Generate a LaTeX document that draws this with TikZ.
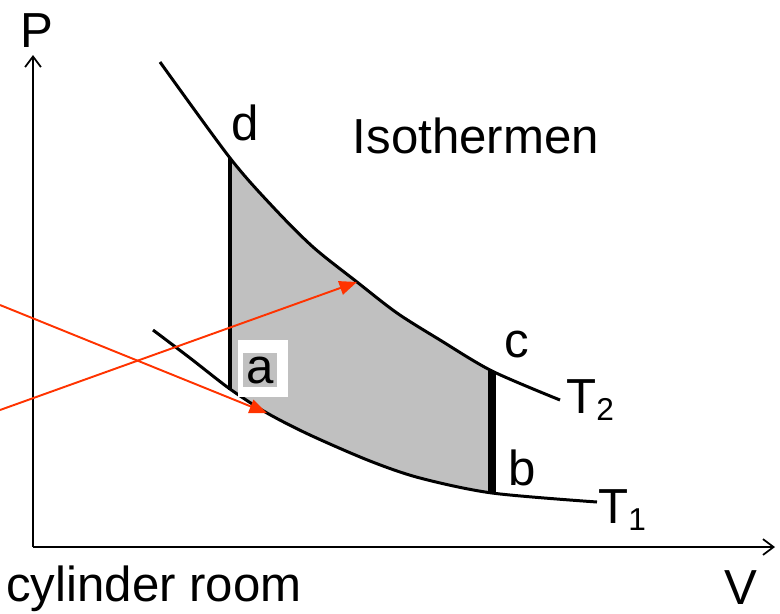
\documentclass[tikz,border=0pt]{standalone}
\usepackage{fontspec}
\setmainfont{Liberation Sans}
\usetikzlibrary{arrows.meta}
\definecolor{arrowred}{RGB}{255,51,0}
\definecolor{areagray}{RGB}{192,192,192}
\newcommand{\isosub}[1]{\raisebox{-4pt}{\fontsize{18}{18}\selectfont #1}}

\begin{document}
\begin{tikzpicture}[
    x=0.02cm, y=-0.02cm,
    font=\fontsize{28}{32}\selectfont,
    lbl/.style={anchor=base, inner sep=0pt},
    axis/.style={line width=1pt, -{Straight Barb[length=6pt,width=9pt]}},
    iso/.style={line width=1.7pt},
    wall/.style={line width=2.3pt},
    redarrow/.style={arrowred, line width=1.1pt, -{Triangle[length=10pt,width=8pt]}}
]
\useasboundingbox (0,0) rectangle (780,613);

% ── Corners of the cycle ───────────────────────────────────
\coordinate (pd) at (230,158);
\coordinate (pa) at (230,390);
\coordinate (pc) at (492,371);
\coordinate (pb) at (492,493);

% ── Shaded area between the isotherms ─────────────────────
\fill[areagray] plot[smooth] coordinates {(230,158) (273,207) (313,247) (357,282) (397,313) (440,340) (492,371)}
    -- (pb) -- plot[smooth] coordinates {(492,493) (420,478) (370,461) (310,435) (267,413) (230,389)} -- cycle;

% ── Axes ───────────────────────────────────────────────────
\coordinate (O) at (33,547);
\coordinate (Ptip) at (33,55);
\coordinate (Vtip) at (775,547);
\draw[axis] (O) -- (Ptip);
\draw[axis] (O) -- (Vtip);

% ── Isotherms T2 (upper) and T1 (lower) ───────────────────
\draw[iso] plot[smooth] coordinates {(160,62) (230,158) (273,207) (313,247) (357,282) (397,313) (440,340) (492,371) (560,400)};
\draw[iso] plot[smooth] coordinates {(153,330) (190,358) (230,389) (267,413) (310,435) (370,461) (420,478) (492,493) (597,502)};

% ── Vertical walls d-a and c-b ─────────────────────────────
\draw[wall] (pd) -- (pa);
\draw[line width=4pt] (pc) -- (pb);

% ── Label a on its white patch ─────────────────────────────
\fill[white] (238,340) rectangle (288,397);
\node[lbl, fill=areagray, inner sep=2pt] (la) at (260,383) {a};

% ── Red pointers ───────────────────────────────────────────
\coordinate (s1) at (0,305);
\coordinate (e1) at (267,413);
\coordinate (s2) at (0,410);
\coordinate (e2) at (357,282);
\draw[redarrow] (s1) -- (e1);
\draw[redarrow] (s2) -- (e2);

% ── Labels ─────────────────────────────────────────────────
\node[lbl] (P) at (37,47) {P};
\node[lbl] (V) at (741,604) {V};
\node[lbl] (ld) at (245,140) {d};
\node[lbl] (title) at (476,153) {Isothermen};
\node[lbl] (lc) at (517,357) {c};
\node[lbl] (lb) at (522,485) {b};
\node[lbl, anchor=base west] (T2) at (566,413) {T\isosub{2}};
\node[lbl, anchor=base west] (T1) at (598,523) {T\isosub{1}};
\node[lbl, anchor=base west] (room) at (6,601) {cylinder room};

\end{tikzpicture}
\end{document}
